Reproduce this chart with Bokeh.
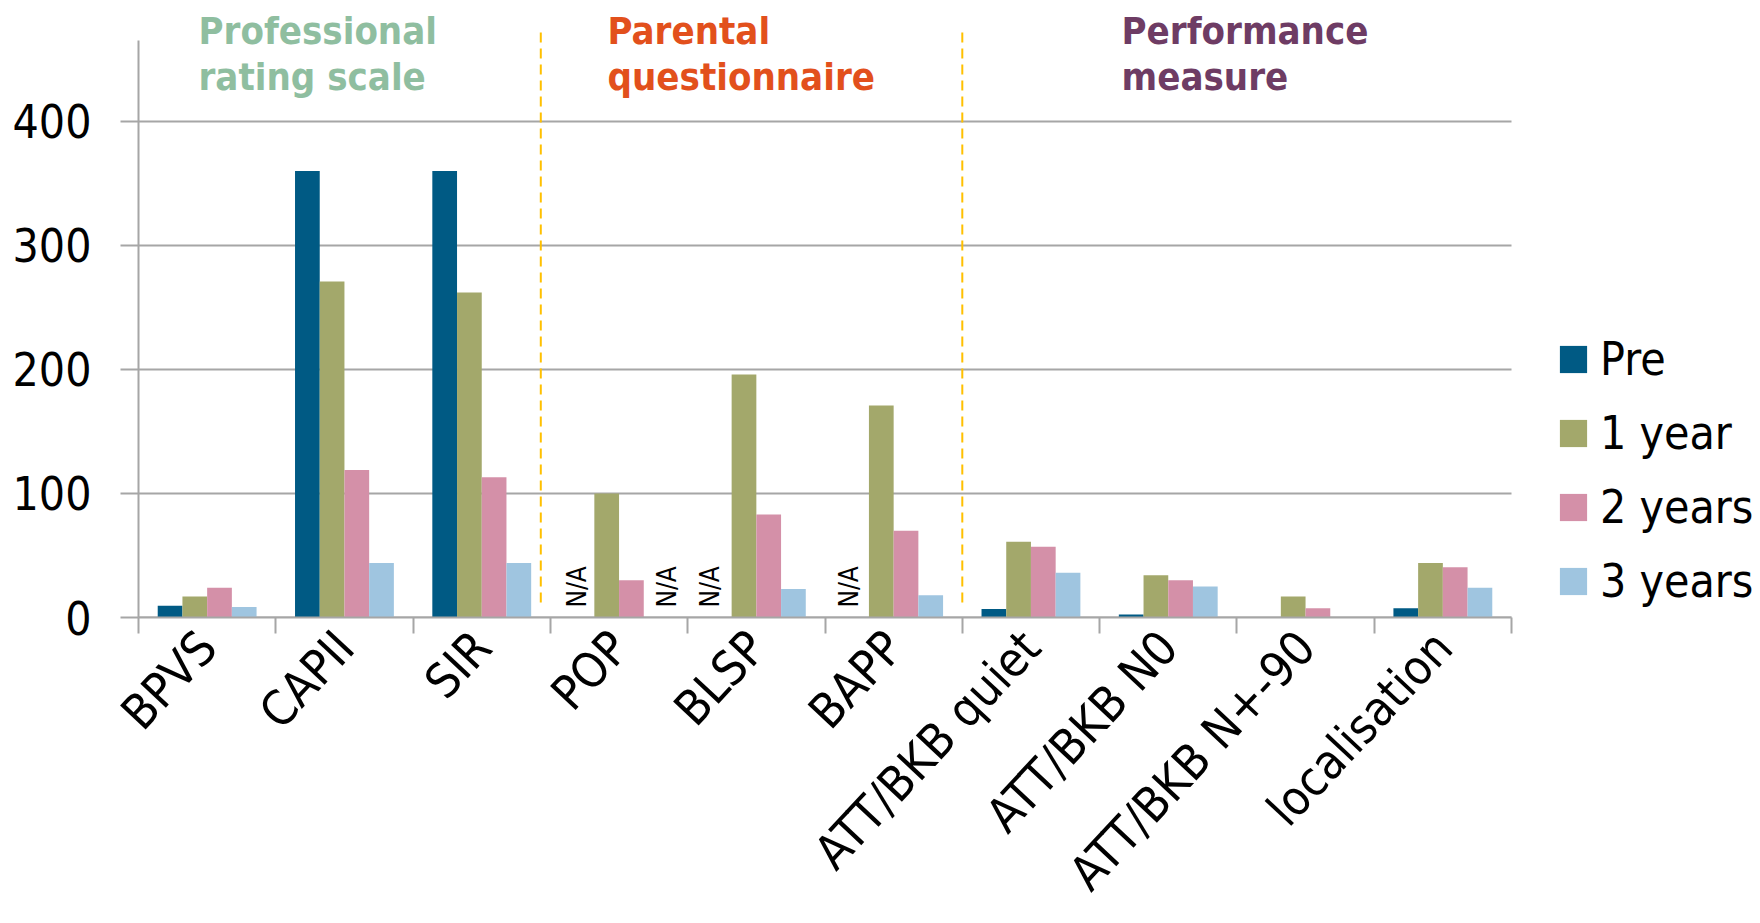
import numpy as np
from bokeh.plotting import figure
from bokeh.models import ColumnDataSource, Range1d, FixedTicker, Legend, LegendItem, Label
from bokeh.core.properties import value
from bokeh.embed import file_html
from bokeh.resources import INLINE

# ---- data -------------------------------------------------------------
categories = ["BPVS", "CAPII", "SIR", "POP", "BLSP", "BAPP",
              "ATT/BKB quiet", "ATT/BKB N0", "ATT/BKB N+-90", "localisation"]
series = ["Pre", "1 year", "2 years", "3 years"]
pre     = [9.5, 360, 360,   0,   0,   0, 6.8, 2.4,  0,   7.5]
year_1  = [17,  271, 262, 100, 196, 171, 61,  34,  17,  44]
year_2  = [24,  119, 113,  30,  83,  70, 57,  30,  7.5, 40.5]
year_3  = [8.5,  44,  44,   0,  23,  18, 36,  25,   0,  24]
values = [pre, year_1, year_2, year_3]
na_marks = [("POP", "Pre"), ("POP", "3 years"), ("BLSP", "Pre"), ("BAPP", "Pre")]
group_titles = [("Professional", "rating scale"),
                ("Parental", "questionnaire"),
                ("Performance", "measure")]
y_ticks = [0, 100, 200, 300, 400]

# ---- style ------------------------------------------------------------
colors = ["#005A84", "#A3A86B", "#D490A8", "#9FC5E0"]
title_colors = ["#8FBEA0", "#E2501C", "#6E3C64"]
FONT = "DejaVu Sans Condensed, DejaVu Sans, sans-serif"
GRID = "#A6A6A6"
offsets = [-0.27, -0.09, 0.09, 0.27]
bar_w = 0.18
n = len(categories)
# the frame runs on to the right edge so the legend can sit beside the bars
x_end = n * 1622 / 1373

p = figure(width=1760, height=923,
           x_range=Range1d(0, x_end), y_range=Range1d(0, 497.5),
           output_backend="svg", toolbar_location=None,
           min_border_left=138, min_border_right=0,
           min_border_top=0, min_border_bottom=306)
p.outline_line_color = None
p.background_fill_color = "white"
p.border_fill_color = "white"

centers = np.arange(n) + 0.5

# horizontal gridlines, limited to the category span
p.xgrid.visible = False
p.ygrid.visible = False
p.segment(x0=[0] * len(y_ticks), x1=[n] * len(y_ticks), y0=y_ticks, y1=y_ticks,
          line_color=GRID, line_width=2, level="underlay")

renderers = []
for j, name in enumerate(series):
    src = ColumnDataSource(dict(x=centers + offsets[j], top=values[j]))
    r = p.vbar(x="x", top="top", width=bar_w, source=src,
               fill_color=colors[j], line_color=None)
    renderers.append(r)

# N/A markers for missing measurements
na_x = [categories.index(c) + 0.5 + offsets[series.index(s)] for c, s in na_marks]
na_nudge = [-5, 11, -9, -8]
p.text(x=na_x, y=[8] * len(na_x), text=["N/A"] * len(na_x), angle=np.pi / 2,
       text_font=value(FONT), text_font_size="26px", text_color="black",
       text_align="left", text_baseline="middle", x_offset=na_nudge)

# dashed dividers between instrument groups
divider_x = [2.93, 6.0]
p.segment(x0=divider_x, x1=divider_x, y0=[12, 12], y1=[474, 474],
          line_color="#FFC000", line_width=2, line_dash="10 6")

# group headings
title_x = [0.437, 3.416, 7.16]
for (l1, l2), col, tx in zip(group_titles, title_colors, title_x):
    for txt, ty in ((l1, 473), (l2, 436)):
        p.add_layout(Label(x=tx, y=ty, text=txt, text_color=col,
                           text_font=FONT, text_font_size="38px",
                           text_font_style="bold", text_baseline="middle"))

# axes
yax = p.yaxis[0]
yax.ticker = FixedTicker(ticks=y_ticks)
yax.bounds = (0, 465)
yax.axis_line_color = GRID
yax.axis_line_width = 2
yax.major_tick_line_color = GRID
yax.major_tick_line_width = 2
yax.major_tick_out = 18
yax.major_tick_in = 0
yax.minor_tick_line_color = None
yax.major_label_standoff = 29
yax.major_label_text_font = FONT
yax.major_label_text_font_size = "46px"
yax.major_label_text_color = "black"

xax = p.xaxis[0]
xax.ticker = FixedTicker(ticks=list(centers), minor_ticks=list(range(n + 1)))
xax.major_label_overrides = {float(c): name for c, name in zip(centers, categories)}
xax.bounds = (0, n)
xax.axis_line_color = GRID
xax.axis_line_width = 2
xax.major_tick_line_color = None
xax.major_tick_out = 0
xax.major_tick_in = 0
xax.minor_tick_line_color = GRID
xax.minor_tick_line_width = 2
xax.minor_tick_out = 16
xax.minor_tick_in = 0
xax.major_label_orientation = 0.82
xax.major_label_standoff = 5
xax.major_label_text_font = FONT
xax.major_label_text_font_size = "48px"
xax.major_label_text_color = "black"

legend = Legend(items=[LegendItem(label=s, renderers=[r]) for s, r in zip(series, renderers)],
                location=(1418, 9), glyph_width=34, glyph_height=34,
                label_text_font=FONT, label_text_font_size="46px",
                label_text_color="black",
                label_standoff=10, spacing=20, padding=0, margin=0,
                border_line_color=None, background_fill_alpha=0)
p.add_layout(legend)

open("out.html", "w").write(file_html(p, INLINE))
